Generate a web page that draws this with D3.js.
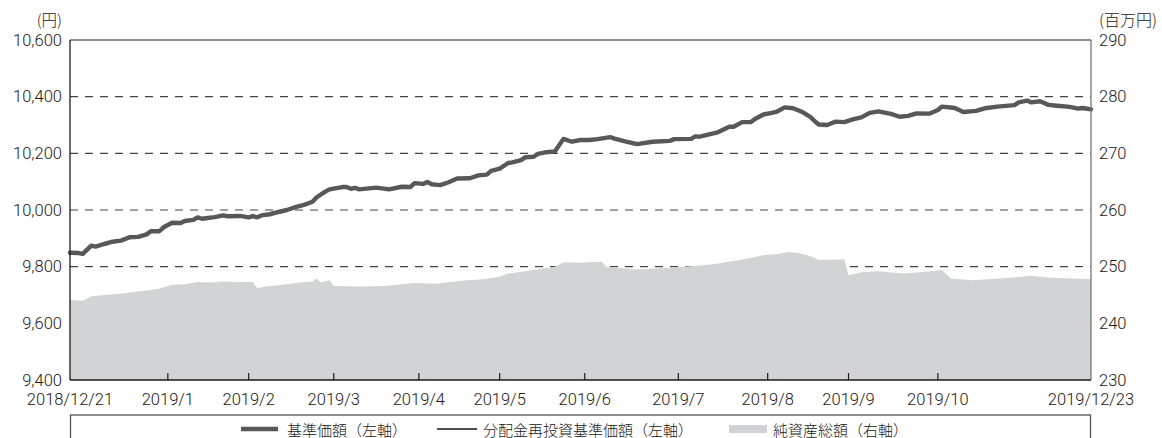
<!DOCTYPE html>
<html>
<head>
<meta charset="utf-8">
<script src="https://cdn.jsdelivr.net/npm/d3@7"></script>
<style>
  body { margin: 0; background: #fff; }
  text { font-family: "Noto Sans CJK JP", "Noto Sans", sans-serif; font-weight: 300; fill: #231815; }
  text.num { font-family: Roboto, "Liberation Sans", sans-serif; font-weight: 300; }
</style>
</head>
<body>
<svg id="chart" width="1162" height="438"></svg>
<script>
// 営業日インデックス（2018/12/21 = 0, 2019/12/23 = 240）
const lastDay = 240;

// 基準価額（円）
const navDay = [0,2,3,5,6,8,10,12,14,16,18,19,21,22,24,26,27,29,30,31,34,36,37,40,42,43,44,45,47,49,51,53,55,57,58,60,61,64,65,66,67,68,72,75,78,80,81,83,84,85,87,89,91,94,96,98,99,101,103,104,106,107,109,110,112,114,116,118,120,122,124,127,128,130,133,134,137,141,142,146,147,148,150,152,155,156,158,160,161,163,165,166,168,170,172,174,175,176,178,179,180,182,184,186,188,190,193,195,197,199,202,204,205,208,210,213,215,218,222,223,225,226,228,230,232,235,237,238,240];
const navVal = [9849,9848,9845,9874,9871,9880,9888,9892,9904,9905,9914,9925,9925,9939,9955,9954,9961,9965,9974,9969,9975,9981,9978,9979,9974,9978,9974,9981,9985,9993,10000,10010,10018,10029,10045,10065,10073,10081,10081,10075,10078,10073,10079,10073,10082,10081,10095,10092,10099,10091,10088,10098,10111,10112,10122,10125,10138,10146,10166,10168,10176,10186,10188,10198,10204,10207,10251,10241,10247,10247,10250,10257,10252,10244,10233,10234,10241,10244,10250,10251,10260,10259,10266,10273,10294,10294,10310,10310,10321,10337,10343,10346,10362,10359,10347,10329,10314,10302,10300,10306,10312,10310,10320,10327,10343,10348,10339,10329,10332,10341,10340,10353,10365,10360,10346,10350,10359,10365,10370,10380,10386,10380,10384,10371,10368,10364,10358,10360,10355];
// 分配金再投資基準価額（期間中分配なし → 基準価額と同じ値）
const reinvestVal = navVal;

// 純資産総額（百万円）
const assetDay = [0,3,5,8,12,16,19,21,24,27,30,33,36,40,43,44,46,50,54,57,58,59,61,62,68,74,81,86,92,97,101,103,107,114,116,120,125,126,133,141,148,152,156,159,163,166,169,171,174,176,179,182,183,186,190,196,201,205,207,212,222,226,230,240];
const assetVal = [244.1,244.0,244.8,245.0,245.2,245.6,245.9,246.1,246.8,246.9,247.3,247.2,247.4,247.3,247.3,246.2,246.5,246.8,247.2,247.4,247.9,247.2,247.6,246.6,246.5,246.6,247.1,247.0,247.5,247.8,248.2,248.8,249.2,250.0,250.8,250.7,250.9,250.0,249.5,249.8,250.2,250.5,251.0,251.4,252.0,252.2,252.6,252.4,251.9,251.2,251.2,251.3,248.5,249.0,249.2,248.8,249.1,249.4,247.9,247.6,248.1,248.4,248.1,247.8];

// 目盛（月末営業日）
const tickDays   = [0,23,42,62,82,101,121,143,164,183,204,240];
const tickLabels = ["2018/12/21","2019/1","2019/2","2019/3","2019/4","2019/5","2019/6","2019/7","2019/8","2019/9","2019/10","2019/12/23"];
const leftTicks  = [9400,9600,9800,10000,10200,10400,10600];
const rightTicks = [230,240,250,260,270,280,290];

const svg = d3.select("#chart");
const m = { left: 70, right: 1091, top: 40, bottom: 380 };

const x  = d3.scaleLinear().domain([0, lastDay]).range([m.left, m.right]);
const yL = d3.scaleLinear().domain([9400, 10600]).range([m.bottom, m.top]);
const yR = d3.scaleLinear().domain([230, 290]).range([m.bottom, m.top]);

// グリッド（破線）
svg.append("g").selectAll("line")
  .data(leftTicks.filter(v => v > 9400 && v < 10600))
  .join("line")
  .attr("x1", m.left).attr("x2", m.right)
  .attr("y1", d => yL(d)).attr("y2", d => yL(d))
  .attr("stroke", "#444").attr("stroke-width", 1.2)
  .attr("stroke-dasharray", "8,7");

// 純資産総額（面）
const assets = assetDay.map((d, i) => ({ d, v: assetVal[i] }));
svg.append("path")
  .datum(assets)
  .attr("fill", "#d2d3d5")
  .attr("d", d3.area().x(p => x(p.d)).y0(m.bottom).y1(p => yR(p.v)));

// 線
const nav = navDay.map((d, i) => ({ d, v: navVal[i] }));
const reinvest = navDay.map((d, i) => ({ d, v: reinvestVal[i] }));
const line = d3.line().x(p => x(p.d)).y(p => yL(p.v));

svg.append("path").datum(reinvest)
  .attr("fill", "none").attr("stroke", "#111").attr("stroke-width", 1.5)
  .attr("d", line);
svg.append("path").datum(nav)
  .attr("fill", "none").attr("stroke", "#595757").attr("stroke-width", 4.4)
  .attr("stroke-linejoin", "round").attr("stroke-linecap", "round")
  .attr("d", line);

// 枠
svg.append("line").attr("x1", m.left).attr("x2", m.right).attr("y1", m.top).attr("y2", m.top)
  .attr("stroke", "#6a6a6a").attr("stroke-width", 1.3);
svg.append("line").attr("x1", m.right).attr("x2", m.right).attr("y1", m.top).attr("y2", m.bottom)
  .attr("stroke", "#777").attr("stroke-width", 1.3);
svg.append("line").attr("x1", m.left).attr("x2", m.left).attr("y1", m.top).attr("y2", m.bottom)
  .attr("stroke", "#231815").attr("stroke-width", 1.3);
svg.append("line").attr("x1", m.left).attr("x2", m.right).attr("y1", m.bottom).attr("y2", m.bottom)
  .attr("stroke", "#231815").attr("stroke-width", 1.3);

// x 目盛線（内向き）
svg.append("g").selectAll("line")
  .data(tickDays.slice(1, -1))
  .join("line")
  .attr("x1", d => x(d)).attr("x2", d => x(d))
  .attr("y1", m.bottom).attr("y2", m.bottom - 7)
  .attr("stroke", "#231815").attr("stroke-width", 1.2);

// x ラベル
svg.append("g").selectAll("text")
  .data(tickDays)
  .join("text")
  .attr("class", "num")
  .attr("x", d => x(d)).attr("y", 399.5)
  .attr("text-anchor", "middle").attr("dominant-baseline", "central")
  .attr("font-size", 16.5)
  .text((d, i) => tickLabels[i]);

// 左軸ラベル
svg.append("g").selectAll("text")
  .data(leftTicks)
  .join("text")
  .attr("class", "num")
  .attr("x", 62).attr("y", d => yL(d))
  .attr("text-anchor", "end").attr("dominant-baseline", "central")
  .attr("font-size", 16.5)
  .text(d => d3.format(",")(d));

// 右軸ラベル
svg.append("g").selectAll("text")
  .data(rightTicks)
  .join("text")
  .attr("class", "num")
  .attr("x", 1099).attr("y", d => yR(d))
  .attr("text-anchor", "start").attr("dominant-baseline", "central")
  .attr("font-size", 16.5)
  .text(d => d);

// 単位
svg.append("text").attr("x", 62).attr("y", 19).attr("text-anchor", "end")
  .attr("dominant-baseline", "central").attr("font-size", 15.5).text("(円)");
svg.append("text").attr("x", 1099).attr("y", 19).attr("text-anchor", "start")
  .attr("dominant-baseline", "central").attr("font-size", 16).text("(百万円)");

// 凡例
svg.append("rect").attr("x", 70.5).attr("y", 415).attr("width", 1020).attr("height", 40)
  .attr("fill", "none").attr("stroke", "#555").attr("stroke-width", 1.3);

const ly = 429;
const lg = svg.append("g");
lg.append("line").attr("x1", 241).attr("x2", 278).attr("y1", ly).attr("y2", ly)
  .attr("stroke", "#595757").attr("stroke-width", 4.5);
lg.append("text").attr("x", 287).attr("y", ly).attr("dominant-baseline", "central")
  .attr("font-size", 15).text("基準価額（左軸）");
lg.append("line").attr("x1", 437).attr("x2", 477).attr("y1", ly).attr("y2", ly)
  .attr("stroke", "#111").attr("stroke-width", 1.5);
lg.append("text").attr("x", 483).attr("y", ly).attr("dominant-baseline", "central")
  .attr("font-size", 15).text("分配金再投資基準価額（左軸）");
lg.append("rect").attr("x", 729).attr("y", ly - 4).attr("width", 38).attr("height", 8)
  .attr("fill", "#d2d3d5");
lg.append("text").attr("x", 773).attr("y", ly).attr("dominant-baseline", "central")
  .attr("font-size", 15).text("純資産総額（右軸）");
</script>
</body>
</html>
